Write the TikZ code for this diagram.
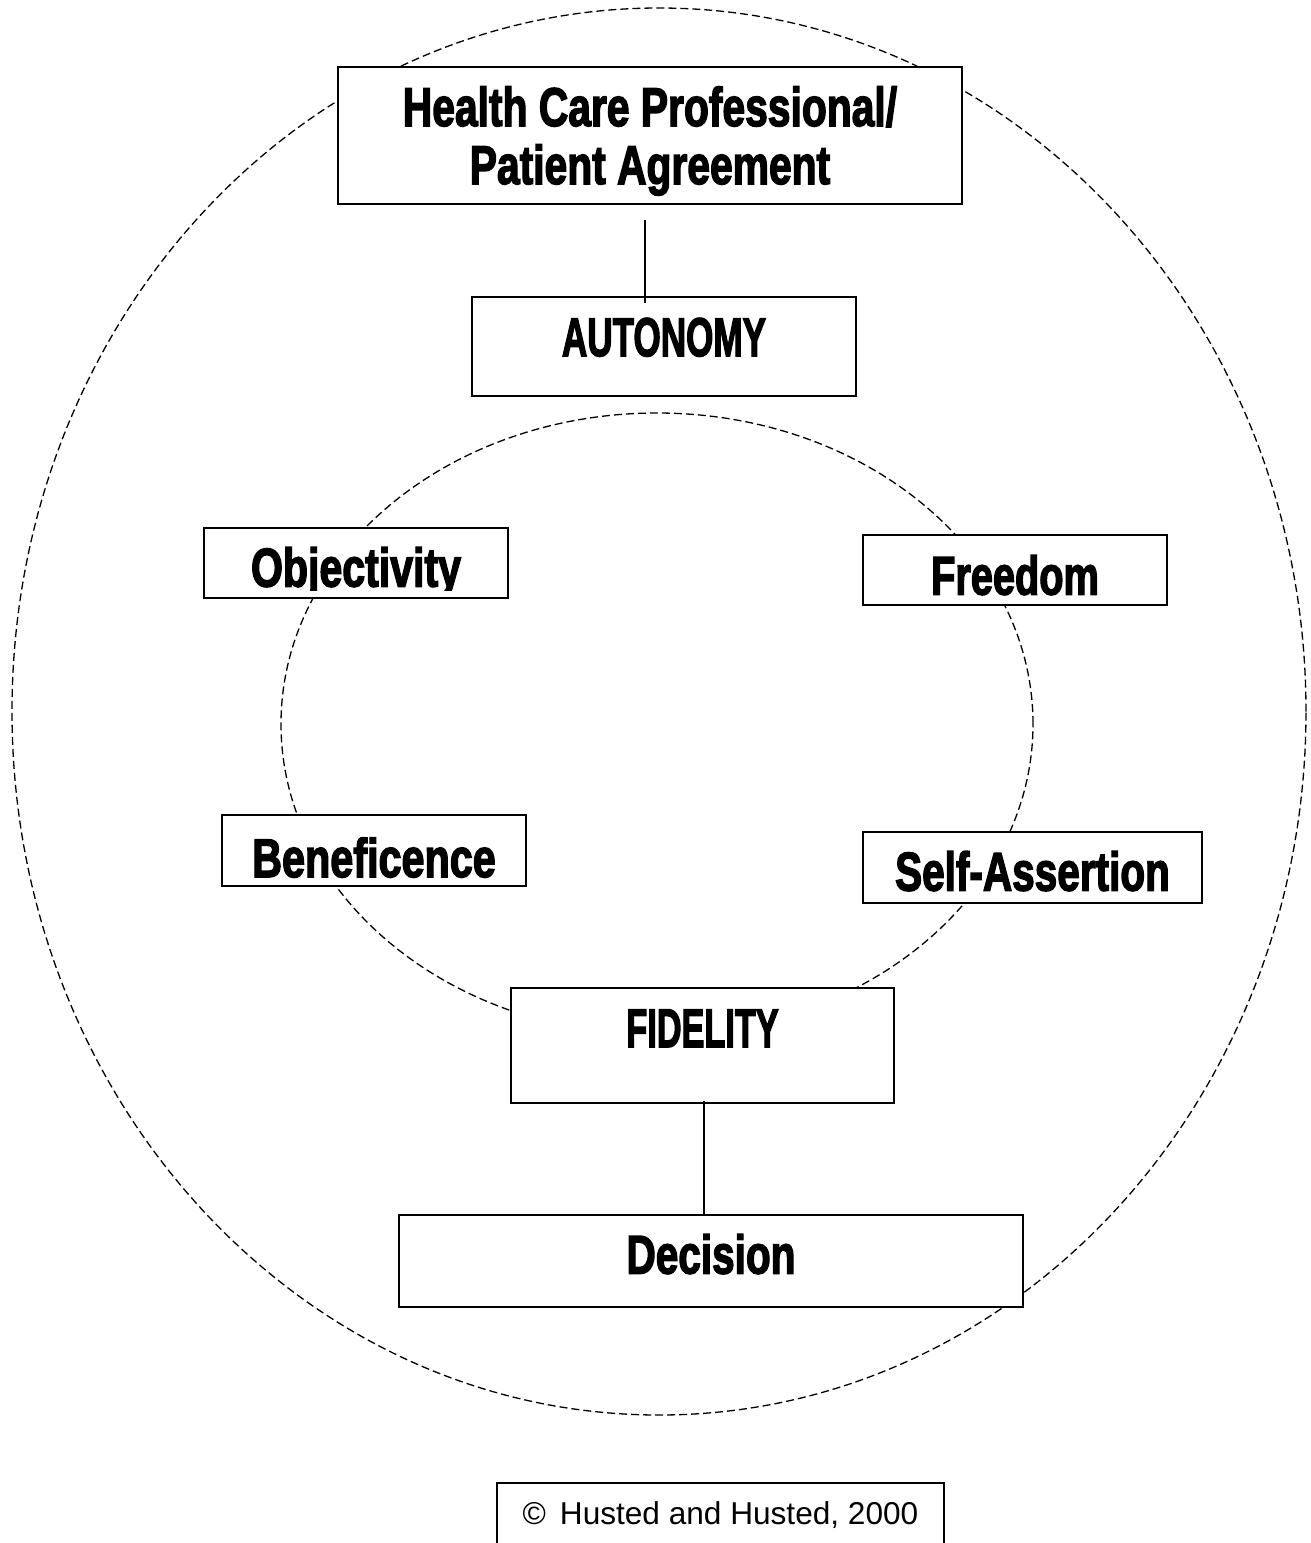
\documentclass[tikz,border=0pt]{standalone}
\usepackage{fontspec}
\usepackage{graphicx}
\setmainfont{Liberation Sans}
\newfontfamily\impf{Liberation Sans Bold}[FakeBold=3]
\newcommand{\imptext}[2]{\scalebox{#1}[1]{#2}}
\tikzset{
  box/.style={draw=black, line width=1pt, fill=white, inner sep=0pt, rectangle,
    font=\impf\fontsize{27.2pt}{29pt}\selectfont},
  ring/.style={draw=black, line width=0.65pt, dash pattern=on 4pt off 2pt},
  link/.style={draw=black, line width=0.9pt},
  capsup/.style={text height=19.5pt, text depth=#1},
  capsdown/.style={text height=#1, text depth=0pt}
}
\begin{document}
\begin{tikzpicture}[x=0.5pt, y=-0.5pt]
\useasboundingbox (0,0) rectangle (1311,1543);
% rings
\draw[ring] (659,711.5) ellipse [x radius=323.5pt, y radius=351.75pt];
\draw[ring] (657,724) ellipse [x radius=188pt, y radius=155.5pt];
% boxes
\node[box, minimum width=312pt, minimum height=68.5pt, align=center] (hcp) at (650,135.5)
  {\rule{0pt}{25.2pt}\imptext{0.75}{Health Care Professional/}\\\imptext{0.75}{Patient Agreement}};
\node[box, minimum width=192pt, minimum height=49.5pt, capsup=10pt] (auto) at (664,346.5)
  {\imptext{0.645}{AUTONOMY}};
\node[box, minimum width=152pt, minimum height=35pt] (obj) at (356,563) {};
\begin{scope}
  \clip (obj.north west) rectangle ([yshift=4.5pt]obj.south east);
  \node[box, draw=none, fill=none, capsdown=23.5pt] (objtext) at (obj.center)
    {\imptext{0.755}{Objectivity}};
\end{scope}
\node[box, minimum width=152pt, minimum height=35pt, capsdown=24.5pt] (free) at (1015,570)
  {\imptext{0.73}{Freedom}};
\node[box, minimum width=152pt, minimum height=35.5pt, capsdown=26.5pt] (bene) at (374,850.5)
  {\imptext{0.76}{Beneficence}};
\node[box, minimum width=169.5pt, minimum height=35.5pt, capsdown=23pt] (self) at (1032.5,867.5)
  {\imptext{0.745}{Self-Assertion}};
\node[box, minimum width=191.5pt, minimum height=57.5pt, capsup=18pt] (fid) at (702.5,1045.5)
  {\imptext{0.63}{FIDELITY}};
\node[box, minimum width=312pt, minimum height=46pt, capsup=7pt] (dec) at (711,1261)
  {\imptext{0.745}{Decision}};
\node[box, minimum width=223.5pt, minimum height=32pt,
  font=\fontsize{15.8pt}{19pt}\selectfont] (copy) at (720.5,1515)
  {\textcopyright\hspace{7pt}Husted and Husted, 2000};
% connectors
\coordinate (c1) at (645,220);
\draw[link, shorten >=-3.5pt] (c1) -- (c1 |- auto.north);
\coordinate (c2) at (704,1101);
\draw[link] (c2) -- (c2 |- dec.north);
\end{tikzpicture}
\end{document}
